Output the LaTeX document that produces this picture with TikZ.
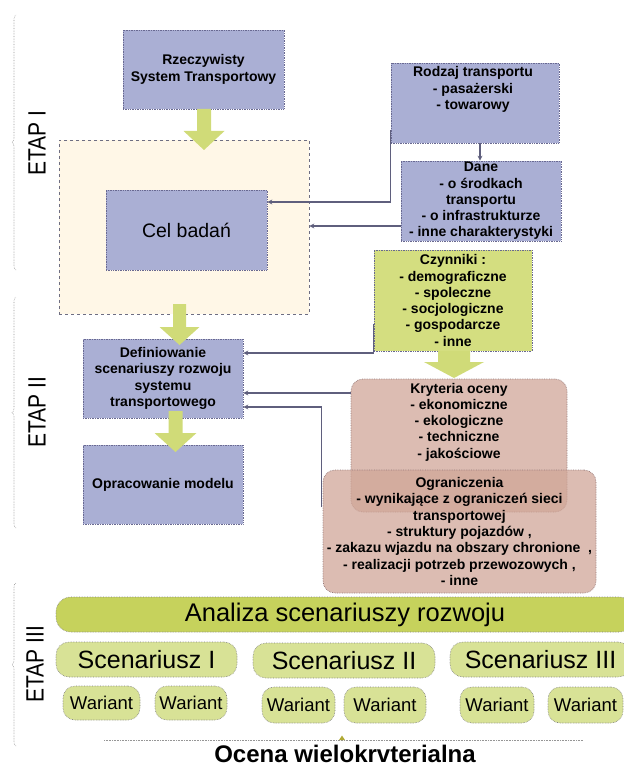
\documentclass[tikz,border=0pt]{standalone}
\usepackage{fontspec}
\setmainfont{Liberation Sans}
\usetikzlibrary{decorations.pathreplacing,arrows.meta,calc}
\definecolor{bluef}{RGB}{170,175,212}
\definecolor{blueb}{RGB}{105,105,145}
\definecolor{beigef}{RGB}{255,247,231}
\definecolor{beigeb}{RGB}{110,110,130}
\definecolor{czynf}{RGB}{212,222,128}
\definecolor{garrowc}{RGB}{208,219,120}
\definecolor{analf}{RGB}{198,210,92}
\definecolor{scenf}{RGB}{216,226,150}
\definecolor{pinkf}{RGB}{208,166,152}
\definecolor{pinkb}{RGB}{150,120,120}
\definecolor{connc}{RGB}{95,95,125}
\definecolor{braceg}{RGB}{150,150,150}
\newcommand{\garr}[6]{\fill[garrowc] (#1-#5,#2) -- (#1+#5,#2) -- (#1+#5,#3) -- (#1+#6,#3) -- (#1,#4) -- (#1-#6,#3) -- (#1-#5,#3) -- cycle;}
\tikzset{
  boxtext/.style={align=center, inner sep=0pt, font=\bfseries\fontsize{14}{16.3}\selectfont},
  bluebox/.style={boxtext, draw=blueb, densely dotted, line width=0.7pt, fill=bluef},
  greenbox/.style={boxtext, draw=blueb, densely dotted, line width=0.7pt, fill=czynf},
  pinkbox/.style={boxtext, draw=pinkb, densely dotted, line width=0.7pt, fill=pinkf, fill opacity=0.75, text opacity=1, rounded corners=12pt},
  beigebox/.style={draw=beigeb, dashed, line width=0.7pt, fill=beigef, inner sep=0pt},
  conn/.style={draw=connc, line width=1.3pt, -{Stealth[length=5pt,width=5pt]}},
  bracest/.style={draw=braceg, densely dotted, line width=0.6pt, decorate, decoration={brace, amplitude=4pt}},
  etap/.style={rotate=90, inner sep=0pt, font=\fontsize{25}{27}\selectfont},
  analbox/.style={draw=gray, densely dotted, line width=0.6pt, fill=analf, rounded corners=15pt, inner sep=0pt, font=\fontsize{25.5}{27}\selectfont},
  scenbox/.style={draw=gray, densely dotted, line width=0.6pt, fill=scenf, rounded corners=13pt, inner sep=0pt, minimum height=35pt, font=\fontsize{25}{27}\selectfont},
  warbox/.style={draw=gray, densely dotted, line width=0.6pt, fill=scenf, rounded corners=12pt, inner sep=0pt, font=\fontsize{18.5}{20}\selectfont},
}
\begin{document}
\begin{tikzpicture}[x=1pt,y=-1pt]
\useasboundingbox (0,0) rectangle (623,767);
% stage braces and labels
\coordinate (b1a) at (16,270); \coordinate (b1b) at (16,15);
\coordinate (b2a) at (16,528); \coordinate (b2b) at (16,297);
\coordinate (b3a) at (16,746); \coordinate (b3b) at (16,583);
\draw[bracest] (b1a) -- (b1b);
\draw[bracest] (b2a) -- (b2b);
\draw[bracest] (b3a) -- (b3b);
\node[etap] (e1) at (37,143) {\scalebox{0.84}[1]{ETAP I}};
\node[etap] (e2) at (37,412) {\scalebox{0.84}[1]{ETAP II}};
\node[etap] (e3) at (35,664) {\scalebox{0.84}[1]{ETAP III}};
% stage I
\node[bluebox, minimum width=161pt, minimum height=79pt] (rzecz) at (203.5,69.5) {Rzeczywisty\\System Transportowy};
\node[beigebox, minimum width=250pt, minimum height=174pt] (beige) at (184,227) {};
\node[bluebox, minimum width=161pt, minimum height=80pt, font=\fontsize{19.5}{22}\selectfont] (cel) at (186.5,230) {Cel badań};
\node[bluebox, minimum width=168pt, minimum height=80pt] (rodzaj) at (475,103) {};
\node[boxtext] (rodzajt) at (473,89.5) {Rodzaj transportu\\- pasażerski\\- towarowy};
\node[bluebox, minimum width=160pt, minimum height=80pt] (dane) at (481,201) {Dane\\- o środkach\\transportu\\- o infrastrukturze\\- inne charakterystyki};
\garr{204}{109}{131}{150}{7}{20.5}
% stage II
\node[greenbox, minimum width=158pt, minimum height=101pt] (czyn) at (453,300.5) {Czynniki :\\- demograficzne\\- spoleczne\\- socjologiczne\\- gospodarcze\\- inne};
\node[bluebox, minimum width=160pt, minimum height=79pt] (defin) at (163,378.5) {Definiowanie\\scenariuszy rozwoju\\systemu\\transportowego};
\node[bluebox, minimum width=160pt, minimum height=79pt] (oprac) at (163,484.5) {Opracowanie modelu};
\node[pinkbox, minimum width=216pt, minimum height=133pt] (kryt) at (459,445.5) {};
\node[boxtext] (krytt) at (459,422) {Kryteria oceny\\- ekonomiczne\\- ekologiczne\\- techniczne\\- jakościowe};
\node[pinkbox, minimum width=273pt, minimum height=123pt] (ogr) at (459.5,531.5) {Ograniczenia\\- wynikające z ograniczeń sieci\\transportowej\\- struktury pojazdów ,\\- zakazu wjazdu na obszary chronione\ \ ,\\- realizacji potrzeb przewozowych\ ,\\- inne};
\garr{179.5}{304}{327}{345}{6.5}{20}
\garr{175.5}{411}{433}{452}{7}{21}
\garr{454}{351}{362}{378}{16}{30}
% connectors
\draw[conn] ([yshift=13pt]rodzaj.south west) |- ([yshift=28pt]cel.east);
\draw[conn] ([xshift=5pt]rodzaj.south) -- ([xshift=5pt]rodzaj.south |- dane.north);
\draw[conn] ([yshift=-25pt]dane.west) -- ([yshift=-25pt]dane.west -| beige.east);
\draw[conn] ([yshift=-23pt]czyn.west) |- ([yshift=25.5pt]defin.east);
\draw[conn] ([yshift=52.5pt]kryt.west) -- ([yshift=52.5pt]kryt.west -| defin.east);
\draw[conn] ([xshift=-1pt,yshift=24.5pt]ogr.west) |- ([yshift=-28.5pt]defin.east);
% stage III
\node[analbox, minimum width=578pt, minimum height=35pt] (anal) at (345,614.5) {Analiza scenariuszy rozwoju};
\node[scenbox, minimum width=181pt] (s1) at (146.5,659.5) {Scenariusz I};
\node[scenbox, minimum width=182pt] (s2) at (344,660.5) {Scenariusz II};
\node[scenbox, minimum width=181pt] (s3) at (540.5,659.5) {Scenariusz III};
\node[warbox, minimum width=77pt, minimum height=34pt] (w1) at (101.5,703) {Wariant};
\node[warbox, minimum width=72pt, minimum height=34pt] (w2) at (191,703) {Wariant};
\node[warbox, minimum width=73pt, minimum height=36pt] (w3) at (298.5,705) {Wariant};
\node[warbox, minimum width=82pt, minimum height=36pt] (w4) at (385,705) {Wariant};
\node[warbox, minimum width=74pt, minimum height=36pt] (w5) at (497,705) {Wariant};
\node[warbox, minimum width=75pt, minimum height=36pt] (w6) at (585.5,705) {Wariant};
\coordinate (la) at (104,740); \coordinate (lb) at (583,740);
\draw[braceg, densely dotted, line width=0.6pt] (la) -- (lb);
\fill[olive!70] (339,740) -- (345,740) -- (342,735.5) -- cycle;
\node[anchor=base, inner sep=0pt, font=\bfseries\fontsize{24}{26}\selectfont] (ocena) at (345,762) {Ocena wielokrvterialna};
\end{tikzpicture}
\end{document}
